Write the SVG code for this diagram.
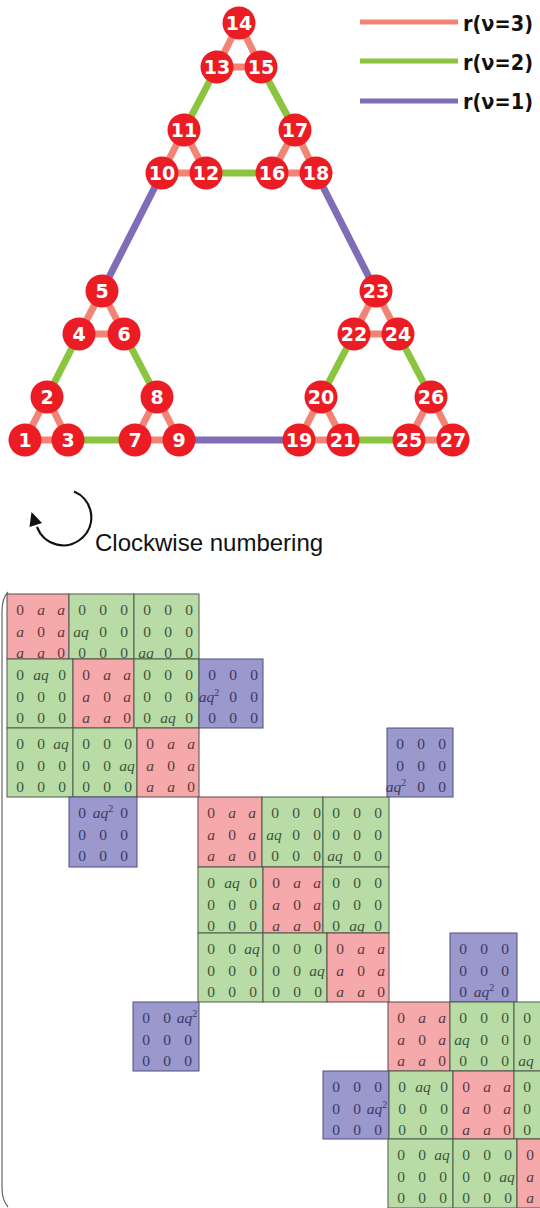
<svg xmlns="http://www.w3.org/2000/svg" xmlns:xlink="http://www.w3.org/1999/xlink" width="540" height="1208" viewBox="0 0 540 1208">
<style>
.e3{stroke:#f28476;stroke-width:7;stroke-linecap:butt}
.e2{stroke:#8bc53f;stroke-width:7}
.e1{stroke:#7f6db6;stroke-width:7}
.nd circle{fill:#ec1c24}
.nd text{fill:#fff;font-family:"DejaVu Sans",sans-serif;font-weight:bold;font-size:19px;text-anchor:middle}
.lg{font-family:"DejaVu Sans",sans-serif;font-weight:bold;font-size:21.5px;fill:#111}
.cw{font-family:"Liberation Sans",Arial,sans-serif;font-size:24px;fill:#111}
.m{font-family:"Liberation Serif","Times New Roman",serif;font-size:15.5px;text-anchor:middle}
.i{font-style:italic}
.rR{fill:#f5a9ab;stroke:#5a4a4a;stroke-width:1}
.rG{fill:#b9dca6;stroke:#4d5a4d;stroke-width:1}
.rB{fill:#9a98cc;stroke:#4f4f7a;stroke-width:1}
</style>
<defs>
<g id="R">
<text class="m" y="21"><tspan x="13">0</tspan><tspan class="i" x="34">a</tspan><tspan class="i" x="54">a</tspan></text>
<text class="m" y="43"><tspan class="i" x="13">a</tspan><tspan x="34">0</tspan><tspan class="i" x="54">a</tspan></text>
<text class="m" y="64"><tspan class="i" x="13">a</tspan><tspan class="i" x="34">a</tspan><tspan x="54">0</tspan></text>
</g>
<text id="z1" class="m" x="13 34 55" y="21">000</text>
<text id="z2" class="m" x="13 34 55" y="43">000</text>
<text id="z3" class="m" x="13 34 55" y="64">000</text>
<g id="g21"><use xlink:href="#z1"/><text class="m" y="43"><tspan class="i" x="12">aq</tspan><tspan x="34">0</tspan><tspan x="55">0</tspan></text><use xlink:href="#z3"/></g>
<g id="g31"><use xlink:href="#z1"/><use xlink:href="#z2"/><text class="m" y="64"><tspan class="i" x="12">aq</tspan><tspan x="34">0</tspan><tspan x="55">0</tspan></text></g>
<g id="g12"><text class="m" y="21"><tspan x="13">0</tspan><tspan class="i" x="34">aq</tspan><tspan x="55">0</tspan></text><use xlink:href="#z2"/><use xlink:href="#z3"/></g>
<g id="g32"><use xlink:href="#z1"/><use xlink:href="#z2"/><text class="m" y="64"><tspan x="13">0</tspan><tspan class="i" x="34">aq</tspan><tspan x="55">0</tspan></text></g>
<g id="g13"><text class="m" y="21"><tspan x="13">0</tspan><tspan x="34">0</tspan><tspan class="i" x="54">aq</tspan></text><use xlink:href="#z2"/><use xlink:href="#z3"/></g>
<g id="g23"><use xlink:href="#z1"/><text class="m" y="43"><tspan x="13">0</tspan><tspan x="34">0</tspan><tspan class="i" x="54">aq</tspan></text><use xlink:href="#z3"/></g>
</defs>

<!-- connectors -->
<g id="connectors">
<g id="level3">
<line class="e3" x1="25" y1="440" x2="47" y2="397"/><line class="e3" x1="47" y1="397" x2="68" y2="440"/><line class="e3" x1="25" y1="440" x2="68" y2="440"/>
<line class="e3" x1="79" y1="334" x2="102" y2="291"/><line class="e3" x1="102" y1="291" x2="124" y2="334"/><line class="e3" x1="79" y1="334" x2="124" y2="334"/>
<line class="e3" x1="135" y1="440" x2="157" y2="397"/><line class="e3" x1="157" y1="397" x2="179" y2="440"/><line class="e3" x1="135" y1="440" x2="179" y2="440"/>
<line class="e3" x1="162" y1="173" x2="184" y2="130"/><line class="e3" x1="184" y1="130" x2="206" y2="173"/><line class="e3" x1="162" y1="173" x2="206" y2="173"/>
<line class="e3" x1="217" y1="67" x2="239" y2="23"/><line class="e3" x1="239" y1="23" x2="261" y2="67"/><line class="e3" x1="217" y1="67" x2="261" y2="67"/>
<line class="e3" x1="272" y1="173" x2="295" y2="130"/><line class="e3" x1="295" y1="130" x2="316" y2="173"/><line class="e3" x1="272" y1="173" x2="316" y2="173"/>
<line class="e3" x1="299" y1="440" x2="321" y2="397"/><line class="e3" x1="321" y1="397" x2="343" y2="440"/><line class="e3" x1="299" y1="440" x2="343" y2="440"/>
<line class="e3" x1="354" y1="334" x2="376" y2="291"/><line class="e3" x1="376" y1="291" x2="398" y2="334"/><line class="e3" x1="354" y1="334" x2="398" y2="334"/>
<line class="e3" x1="409" y1="440" x2="431" y2="397"/><line class="e3" x1="431" y1="397" x2="453" y2="440"/><line class="e3" x1="409" y1="440" x2="453" y2="440"/>
</g>
<g id="level2">
<line class="e2" x1="47" y1="397" x2="79" y2="334"/><line class="e2" x1="124" y1="334" x2="157" y2="397"/><line class="e2" x1="68" y1="440" x2="135" y2="440"/>
<line class="e2" x1="184" y1="130" x2="217" y2="67"/><line class="e2" x1="261" y1="67" x2="295" y2="130"/><line class="e2" x1="206" y1="173" x2="272" y2="173"/>
<line class="e2" x1="321" y1="397" x2="354" y2="334"/><line class="e2" x1="398" y1="334" x2="431" y2="397"/><line class="e2" x1="343" y1="440" x2="409" y2="440"/>
</g>
<g id="level1">
<line class="e1" x1="102" y1="291" x2="162" y2="173"/><line class="e1" x1="316" y1="173" x2="376" y2="291"/><line class="e1" x1="179" y1="440" x2="299" y2="440"/>
</g>
</g>

<!-- nodes -->
<g id="n1" class="nd"><circle cx="25" cy="440" r="16.5"/><text x="25" y="447">1</text></g>
<g id="n2" class="nd"><circle cx="47" cy="397" r="16.5"/><text x="47" y="404">2</text></g>
<g id="n3" class="nd"><circle cx="68" cy="440" r="16.5"/><text x="68" y="447">3</text></g>
<g id="n4" class="nd"><circle cx="79" cy="334" r="16.5"/><text x="79" y="341">4</text></g>
<g id="n5" class="nd"><circle cx="102" cy="291" r="16.5"/><text x="102" y="298">5</text></g>
<g id="n6" class="nd"><circle cx="124" cy="334" r="16.5"/><text x="124" y="341">6</text></g>
<g id="n7" class="nd"><circle cx="135" cy="440" r="16.5"/><text x="135" y="447">7</text></g>
<g id="n8" class="nd"><circle cx="157" cy="397" r="16.5"/><text x="157" y="404">8</text></g>
<g id="n9" class="nd"><circle cx="179" cy="440" r="16.5"/><text x="179" y="447">9</text></g>
<g id="n10" class="nd"><circle cx="162" cy="173" r="16.5"/><text x="162" y="180">10</text></g>
<g id="n11" class="nd"><circle cx="184" cy="130" r="16.5"/><text x="184" y="137">11</text></g>
<g id="n12" class="nd"><circle cx="206" cy="173" r="16.5"/><text x="206" y="180">12</text></g>
<g id="n13" class="nd"><circle cx="217" cy="67" r="16.5"/><text x="217" y="74">13</text></g>
<g id="n14" class="nd"><circle cx="239" cy="23" r="16.5"/><text x="239" y="30">14</text></g>
<g id="n15" class="nd"><circle cx="261" cy="67" r="16.5"/><text x="261" y="74">15</text></g>
<g id="n16" class="nd"><circle cx="272" cy="173" r="16.5"/><text x="272" y="180">16</text></g>
<g id="n17" class="nd"><circle cx="295" cy="130" r="16.5"/><text x="295" y="137">17</text></g>
<g id="n18" class="nd"><circle cx="316" cy="173" r="16.5"/><text x="316" y="180">18</text></g>
<g id="n19" class="nd"><circle cx="299" cy="440" r="16.5"/><text x="299" y="447">19</text></g>
<g id="n20" class="nd"><circle cx="321" cy="397" r="16.5"/><text x="321" y="404">20</text></g>
<g id="n21" class="nd"><circle cx="343" cy="440" r="16.5"/><text x="343" y="447">21</text></g>
<g id="n22" class="nd"><circle cx="354" cy="334" r="16.5"/><text x="354" y="341">22</text></g>
<g id="n23" class="nd"><circle cx="376" cy="291" r="16.5"/><text x="376" y="298">23</text></g>
<g id="n24" class="nd"><circle cx="398" cy="334" r="16.5"/><text x="398" y="341">24</text></g>
<g id="n25" class="nd"><circle cx="409" cy="440" r="16.5"/><text x="409" y="447">25</text></g>
<g id="n26" class="nd"><circle cx="431" cy="397" r="16.5"/><text x="431" y="404">26</text></g>
<g id="n27" class="nd"><circle cx="453" cy="440" r="16.5"/><text x="453" y="447">27</text></g>

<!-- legend -->
<g id="legend">
<line class="e3" x1="360" y1="22" x2="458" y2="22" style="stroke-width:5"/>
<line class="e2" x1="360" y1="61" x2="458" y2="61" style="stroke-width:5"/>
<line class="e1" x1="360" y1="101" x2="458" y2="101" style="stroke-width:5"/>
<text class="lg" x="463" y="31" textLength="70" lengthAdjust="spacingAndGlyphs">r(ν=3)</text>
<text class="lg" x="463" y="70" textLength="70" lengthAdjust="spacingAndGlyphs">r(ν=2)</text>
<text class="lg" x="463" y="109" textLength="70" lengthAdjust="spacingAndGlyphs">r(ν=1)</text>
</g>

<!-- clockwise note -->
<g id="clockwise">
<path d="M74,491.5 A28,28 0 1,1 37,527" fill="none" stroke="#111" stroke-width="2.2"/>
<polygon points="31.5,512 42,523 29.5,527" fill="#111"/>
<text class="cw" x="95" y="551">Clockwise numbering</text>
</g>

<!-- matrix -->
<g id="matrix">
<path d="M8,592 Q2,598 2,612 L2,1188 Q2,1200 8,1207" fill="none" stroke="#666" stroke-width="1.2"/>
<!-- row 1 -->
<g id="b11" transform="translate(7,594)"><rect class="rR" width="62" height="65"/><use xlink:href="#R" fill="#5e3a3c"/></g>
<g id="b12" transform="translate(69,594)"><rect class="rG" width="65" height="65"/><use xlink:href="#g21" fill="#3d563b"/></g>
<g id="b13" transform="translate(134,594)"><rect class="rG" width="65" height="65"/><use xlink:href="#g31" fill="#3d563b"/></g>
<!-- row 2 -->
<g id="b21" transform="translate(7,659)"><rect class="rG" width="66" height="69"/><use xlink:href="#g12" fill="#3d563b"/></g>
<g id="b22" transform="translate(73,659)"><rect class="rR" width="61" height="69"/><use xlink:href="#R" fill="#5e3a3c"/></g>
<g id="b23" transform="translate(134,659)"><rect class="rG" width="65" height="69"/><use xlink:href="#g32" fill="#3d563b"/></g>
<g id="b24" transform="translate(199,659)"><rect class="rB" width="64" height="69"/>
<g fill="#3c3a66"><use xlink:href="#z1"/><text class="m" y="43"><tspan class="i" x="10">aq</tspan><tspan font-size="10" dy="-6">2</tspan><tspan x="34" dy="6">0</tspan><tspan x="55">0</tspan></text><use xlink:href="#z3"/></g></g>
<!-- row 3 -->
<g id="b31" transform="translate(7,728)"><rect class="rG" width="66" height="69"/><use xlink:href="#g13" fill="#3d563b"/></g>
<g id="b32" transform="translate(73,728)"><rect class="rG" width="64" height="69"/><use xlink:href="#g23" fill="#3d563b"/></g>
<g id="b33" transform="translate(137,728)"><rect class="rR" width="62" height="69"/><use xlink:href="#R" fill="#5e3a3c"/></g>
<g id="b37" transform="translate(387,728)"><rect class="rB" width="66" height="69"/>
<g fill="#3c3a66"><use xlink:href="#z1"/><use xlink:href="#z2"/><text class="m" y="64"><tspan class="i" x="9">aq</tspan><tspan font-size="10" dy="-6">2</tspan><tspan x="34" dy="6">0</tspan><tspan x="55">0</tspan></text></g></g>
<!-- row 4 -->
<g id="b42" transform="translate(69,797)"><rect class="rB" width="68" height="70"/>
<g fill="#3c3a66"><text class="m" y="21"><tspan x="13">0</tspan><tspan class="i" x="34">aq</tspan><tspan font-size="10" dy="-6">2</tspan><tspan x="55" dy="6">0</tspan></text><use xlink:href="#z2"/><use xlink:href="#z3"/></g></g>
<g id="b44" transform="translate(198,797)"><rect class="rR" width="64" height="70"/><use xlink:href="#R" fill="#5e3a3c"/></g>
<g id="b45" transform="translate(262,797)"><rect class="rG" width="61" height="70"/><use xlink:href="#g21" fill="#3d563b"/></g>
<g id="b46" transform="translate(323,797)"><rect class="rG" width="66" height="70"/><use xlink:href="#g31" fill="#3d563b"/></g>
<!-- row 5 -->
<g id="b54" transform="translate(198,867)"><rect class="rG" width="65" height="66"/><use xlink:href="#g12" fill="#3d563b"/></g>
<g id="b55" transform="translate(263,867)"><rect class="rR" width="60" height="66"/><use xlink:href="#R" fill="#5e3a3c"/></g>
<g id="b56" transform="translate(323,867)"><rect class="rG" width="66" height="66"/><use xlink:href="#g32" fill="#3d563b"/></g>
<!-- row 6 -->
<g id="b64" transform="translate(198,933)"><rect class="rG" width="65" height="69"/><use xlink:href="#g13" fill="#3d563b"/></g>
<g id="b65" transform="translate(263,933)"><rect class="rG" width="64" height="69"/><use xlink:href="#g23" fill="#3d563b"/></g>
<g id="b66" transform="translate(327,933)"><rect class="rR" width="62" height="69"/><use xlink:href="#R" fill="#5e3a3c"/></g>
<g id="b68" transform="translate(450,933)"><rect class="rB" width="67" height="69"/>
<g fill="#3c3a66"><use xlink:href="#z1"/><use xlink:href="#z2"/><text class="m" y="64"><tspan x="13">0</tspan><tspan class="i" x="34">aq</tspan><tspan font-size="10" dy="-6">2</tspan><tspan x="55" dy="6">0</tspan></text></g></g>
<!-- row 7 -->
<g id="b73" transform="translate(133,1002)"><rect class="rB" width="66" height="69"/>
<g fill="#3c3a66"><text class="m" y="21"><tspan x="13">0</tspan><tspan x="34">0</tspan><tspan class="i" x="54">aq</tspan><tspan font-size="10" dy="-6">2</tspan></text><use xlink:href="#z2"/><use xlink:href="#z3"/></g></g>
<g id="b77" transform="translate(388,1002)"><rect class="rR" width="62" height="69"/><use xlink:href="#R" fill="#5e3a3c"/></g>
<g id="b78" transform="translate(450,1002)"><rect class="rG" width="64" height="69"/><use xlink:href="#g21" fill="#3d563b"/></g>
<g id="b79" transform="translate(514,1002)"><rect class="rG" width="66" height="69"/><use xlink:href="#g31" fill="#3d563b"/></g>
<!-- row 8 -->
<g id="b86" transform="translate(323,1071)"><rect class="rB" width="66" height="68"/>
<g fill="#3c3a66"><use xlink:href="#z1"/><text class="m" y="43"><tspan x="13">0</tspan><tspan x="34">0</tspan><tspan class="i" x="54">aq</tspan><tspan font-size="10" dy="-6">2</tspan></text><use xlink:href="#z3"/></g></g>
<g id="b87" transform="translate(389,1071)"><rect class="rG" width="64" height="68"/><use xlink:href="#g12" fill="#3d563b"/></g>
<g id="b88" transform="translate(453,1071)"><rect class="rR" width="61" height="68"/><use xlink:href="#R" fill="#5e3a3c"/></g>
<g id="b89" transform="translate(514,1071)"><rect class="rG" width="66" height="68"/><use xlink:href="#g32" fill="#3d563b"/></g>
<!-- row 9 -->
<g id="b97" transform="translate(388,1139)"><rect class="rG" width="65" height="69"/><use xlink:href="#g13" fill="#3d563b"/></g>
<g id="b98" transform="translate(453,1139)"><rect class="rG" width="64" height="69"/><use xlink:href="#g23" fill="#3d563b"/></g>
<g id="b99" transform="translate(517,1139)"><rect class="rR" width="63" height="69"/><use xlink:href="#R" fill="#5e3a3c"/></g>
</g>
</svg>
